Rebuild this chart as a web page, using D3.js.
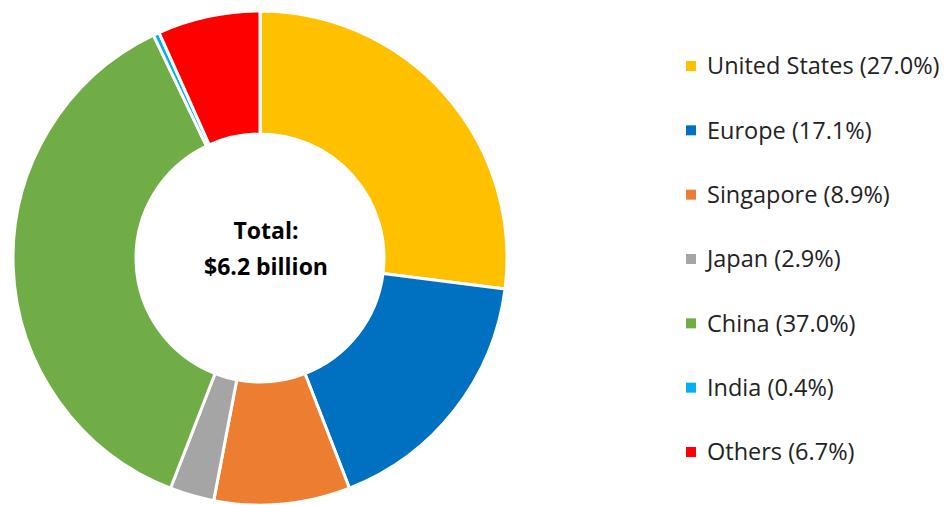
<!DOCTYPE html>
<html>
<head>
<meta charset="utf-8">
<script src="https://cdn.jsdelivr.net/npm/d3@7"></script>
<style>
  html, body { margin: 0; padding: 0; background: #fff; }
  svg { display: block; font-family: "Open Sans", Lato, sans-serif; }
</style>
</head>
<body>
<svg id="chart" width="952" height="505"></svg>
<script>
// Share of total by region
const regions = ["United States", "Europe", "Singapore", "Japan", "China", "India", "Others"];
const shares = [27.0, 17.1, 8.9, 2.9, 37.0, 0.4, 6.7];
const colors = ["#FFC000", "#0070C0", "#ED7D31", "#A5A5A5", "#70AD47", "#00B0F0", "#FF0000"];
const centerLines = ["Total:", "$6.2 billion"];

const data = regions.map((r, i) => ({ region: r, share: shares[i], color: colors[i] }));

const svg = d3.select("#chart");
const cx = 260, cy = 258, outerR = 247, innerR = 124;

const pie = d3.pie().value(d => d.share).sort(null);
const arc = d3.arc().innerRadius(innerR).outerRadius(outerR);

const g = svg.append("g").attr("transform", `translate(${cx},${cy})`);
g.selectAll("path")
  .data(pie(data))
  .join("path")
  .attr("d", arc)
  .attr("fill", d => d.data.color)
  .attr("stroke", "#fff")
  .attr("stroke-width", 3)
  .attr("stroke-linejoin", "round");

g.selectAll("text.center")
  .data(centerLines)
  .join("text")
  .attr("class", "center")
  .attr("text-anchor", "middle")
  .attr("x", 6)
  .attr("y", (d, i) => -27 + i * 36)
  .attr("dy", "0.35em")
  .attr("font-weight", 700)
  .attr("font-size", 23)
  .attr("fill", "#000")
  .text(d => d);

// Legend
const legendY = d3.scalePoint().domain(regions).range([66, 452]);
const legend = svg.append("g");
const items = legend.selectAll("g")
  .data(data)
  .join("g")
  .attr("transform", d => `translate(686,${legendY(d.region)})`);
items.append("rect")
  .attr("x", 0).attr("y", -5)
  .attr("width", 10).attr("height", 10)
  .attr("fill", d => d.color);
items.append("text")
  .attr("x", 21)
  .attr("dy", "0.36em")
  .attr("font-size", 23.5)
  .attr("fill", "#222")
  .text(d => `${d.region} (${d.share.toFixed(1)}%)`);
</script>
</body>
</html>
